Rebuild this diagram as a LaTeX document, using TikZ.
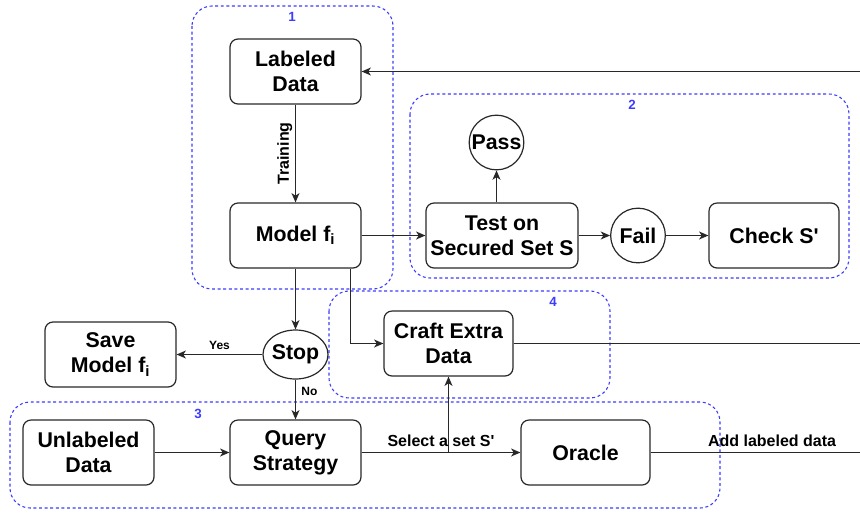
\documentclass[tikz,border=0pt]{standalone}
\usepackage{fontspec}
\setmainfont{Liberation Sans}
\usetikzlibrary{arrows.meta,shapes.geometric,calc}
\definecolor{grpblue}{RGB}{60,60,255}
\definecolor{boxline}{RGB}{40,40,40}
\tikzset{
 proc/.style={draw=boxline, line width=0.9pt, rounded corners=6pt, minimum width=98.25pt, minimum height=48.75pt, align=center, font=\bfseries\fontsize{16}{18.5}\selectfont, inner sep=1pt},
 circ/.style={draw=boxline, line width=0.9pt, circle, minimum size=41pt, inner sep=0pt, font=\bfseries\fontsize{16}{18.5}\selectfont},
 ell/.style={draw=boxline, line width=0.9pt, ellipse, minimum width=48.75pt, minimum height=36.75pt, inner sep=-1pt, font=\bfseries\fontsize{16}{18.5}\selectfont},
 grp/.style={draw=grpblue, line width=0.8pt, dash pattern=on 2.2pt off 2pt, rounded corners=15pt},
 grplabel/.style={text=grpblue, font=\bfseries\fontsize{10}{11}\selectfont, inner sep=0pt},
 conn/.style={draw=boxline, line width=0.9pt},
 arr/.style={conn, -{Stealth[length=7pt,width=6pt,inset=2pt]}},
 lbl/.style={font=\bfseries\fontsize{12}{14}\selectfont},
 slbl/.style={font=\bfseries\fontsize{9}{10}\selectfont},
}
\begin{document}
\begin{tikzpicture}[x=0.75pt,y=-0.75pt]
\useasboundingbox (0,0) rectangle (860,512);
% groups
\draw[grp] (192,6) rectangle (393,289);
\draw[grp] (410,94) rectangle (849,278);
\draw[grp] (329,291) rectangle (610,398);
\draw[grp] (10,402) rectangle (720,508);
\node[grplabel] (g1) at (292,17) {1};
\node[grplabel] (g2) at (632,105) {2};
\node[grplabel] (g3) at (198,414) {3};
\node[grplabel] (g4) at (553,302) {4};
% nodes
\node[proc] (ld) at (295.5,71.5) {Labeled\\Data};
\node[proc] (mf) at (295.5,235.5) {Model f\textsubscript{i}};
\node[proc, minimum width=114pt] (ts) at (502,235.5) {Test on\\Secured Set S};
\node[circ] (pass) at (496.5,142.5) {Pass};
\node[circ] (fail) at (638,235.5) {Fail};
\node[proc, minimum width=97.5pt] (cs) at (774,235.5) {Check S\textquotesingle};
\node[ell] (stop) at (295.5,354.5) {Stop};
\node[proc] (save) at (110.5,354.5) {Save\\Model f\textsubscript{i}};
\node[proc, minimum width=96.75pt] (craft) at (448.5,343.5) {Craft Extra\\Data};
\node[proc] (ud) at (88.5,452.5) {Unlabeled\\Data};
\node[proc] (qs) at (295.5,452.5) {Query\\Strategy};
\node[proc, minimum width=96.75pt] (or) at (585.5,452.5) {Oracle};
% edge coordinates
\coordinate (rin) at (860,71.5);
\coordinate (rcraft) at (860,343.5);
\coordinate (ror) at (860,452.5);
\coordinate (sel) at (craft.south |- qs.east);
% connectors
\draw[arr] (rin) -- (ld.east);
\draw[arr] (ld.south) -- node[midway, rotate=90, anchor=south, lbl, inner sep=2pt] (tr) {Training} (mf.north);
\draw[arr] (mf.east) -- (ts.west);
\draw[arr] (pass.south |- ts.north) -- (pass.south);
\draw[arr] (ts.east) -- (fail.west);
\draw[arr] (fail.east) -- (cs.west);
\draw[arr] (mf.south) -- (stop.north);
\draw[arr] ([xshift=-8.25pt]mf.south east) |- (craft.west);
\draw[conn] (craft.east) -- (rcraft);
\draw[arr] (stop.west) -- node[midway, above, slbl, inner sep=3pt] (yes) {Yes} (save.east);
\draw[arr] (stop.south) -- node[pos=0.3, right, slbl, inner sep=4pt] (no) {No} (qs.north);
\draw[arr] (ud.east) -- (qs.west);
\draw[arr] (qs.east) -- node[midway, above, lbl, inner sep=4pt] (sl) {Select a set S\textquotesingle} (or.west);
\draw[arr] (sel) -- (craft.south);
\draw[conn] (or.east) -- node[pos=0.58, above, lbl, inner sep=4pt] (al) {Add labeled data} (ror);
\end{tikzpicture}
\end{document}
